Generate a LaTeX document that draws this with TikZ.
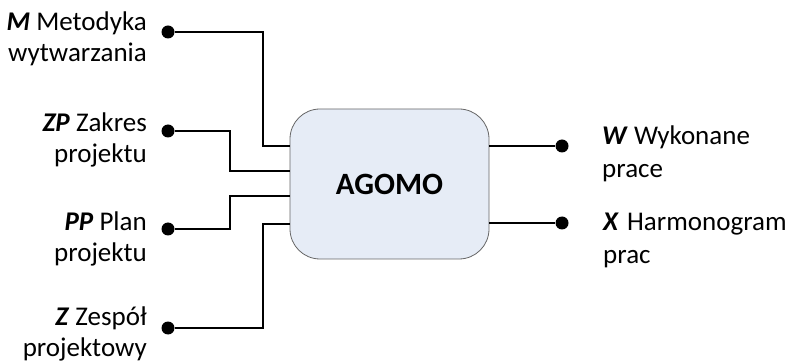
\documentclass[tikz,border=0pt]{standalone}
\usepackage{fontspec}
\setmainfont{Carlito}
\begin{document}
\begin{tikzpicture}[x=1pt,y=-1pt,
  wire/.style={line width=2pt,line join=miter},
  pin/.style={circle,fill=black,inner sep=0pt,minimum size=13pt},
  lbl/.style={inner sep=0pt,font=\fontsize{27}{31}\selectfont},
  lblL/.style={lbl,align=right,anchor=base east},
  lblR/.style={lbl,align=left,anchor=base west,font=\fontsize{27}{33}\selectfont},
  procbox/.style={draw=black!60,line width=0.8pt,fill={rgb,255:red,230;green,236;blue,246},
    rounded corners=30pt,minimum width=199pt,minimum height=150pt,
    font=\fontsize{31}{36}\selectfont\bfseries}]
\useasboundingbox (0,0) rectangle (787,363);

% central process
\node[procbox] (agomo) at (389.5,184) {AGOMO};

% inputs
\node[pin] (pM)  at (168,32)  {};
\node[pin] (pZP) at (168,131) {};
\node[pin] (pPP) at (168,229) {};
\node[pin] (pZ)  at (168,328) {};

% labels are anchored at the baseline of their second line
\node[lblL] (tM)  at (147,62)  {\textbf{\textit{M}} Metodyka\\wytwarzania};
\node[lblL] (tZP) at (147,163) {\textbf{\textit{ZP}} Zakres\\projektu};
\node[lblL] (tPP) at (147,262) {\textbf{\textit{PP}} Plan\\projektu};
\node[lblL] (tZ)  at (147,356) {\textbf{\textit{Z}} Zespół\\projektowy};

\coordinate (eM)  at (agomo.west |- 0,146);
\coordinate (eZP) at (agomo.west |- 0,171);
\coordinate (ePP) at (agomo.west |- 0,196);
\coordinate (eZ)  at (agomo.west |- 0,224);

\draw[wire] (pM)  -| (263,146) -- (eM);
\draw[wire] (pZP) -| (230,171) -- (eZP);
\draw[wire] (pPP) -| (230,196) -- (ePP);
\draw[wire] (pZ)  -| (263,224) -- (eZ);

% outputs
\node[pin] (pW) at (562,146) {};
\node[pin] (pX) at (562,223) {};
\coordinate (eW) at (agomo.east |- pW);
\coordinate (eX) at (agomo.east |- pX);
\draw[wire] (eW) -- (pW);
\draw[wire] (eX) -- (pX);

\node[lblR] (tW) at (602,178) {\textbf{\textit{W}} Wykonane\\prace};
\node[lblR] (tX) at (603,264) {\textbf{\textit{X}}\hspace{0.3em}Harmonogram\\prac};
\end{tikzpicture}
\end{document}
